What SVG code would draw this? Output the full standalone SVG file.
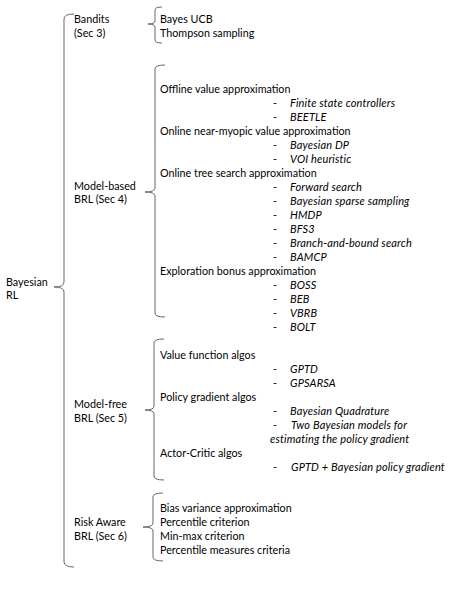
<svg xmlns="http://www.w3.org/2000/svg" width="450" height="600" viewBox="0 0 450 600">
<style>
text{font-family:Lato,"Liberation Sans",sans-serif;font-size:10.75px;fill:#000}
.i{font-style:italic;font-size:11px;letter-spacing:0.15px}
.br{fill:none;stroke:#666;stroke-width:1}
</style>
<rect width="450" height="600" fill="#fff"/>
<g id="connectors">
<path class="br" d="M74,14 Q64,14 64,19 L64,282 Q64,287 54,287 Q64,287 64,292 L64,562 Q64,567 74,567"/>
<path class="br" d="M162,7 Q155,7 155,10 L155,21 Q155,24 148,24 Q155,24 155,27 L155,40 Q155,43 162,43"/>
<path class="br" d="M165,65 Q155,65 155,69 L155,188 Q155,192 145,192 Q155,192 155,196 L155,313 Q155,317 165,317"/>
<path class="br" d="M164,339 Q154,339 154,343 L154,406 Q154,410 145,410 Q154,410 154,414 L154,476 Q154,480 164,480"/>
<path class="br" d="M163,493 Q153,493 153,497 L153,523 Q153,527 143,527 Q153,527 153,531 L153,557 Q153,561 163,561"/>
</g>
<g id="root"><text x="6" y="286">Bayesian</text><text x="6" y="299">RL</text></g>
<g id="bandits"><text x="74" y="23">Bandits</text><text x="74" y="37">(Sec 3)</text></g>
<g id="bandits-items"><text x="160" y="23">Bayes UCB</text><text x="160" y="37">Thompson sampling</text></g>
<g id="model-based"><text x="74" y="190">Model-based</text><text x="74" y="203">BRL (Sec 4)</text></g>
<g id="model-based-items">
<text x="160" y="93">Offline value approximation</text>
<text x="273" y="107">-</text><text class="i" x="290" y="107">Finite state controllers</text>
<text x="273" y="121">-</text><text class="i" x="290" y="121">BEETLE</text>
<text x="160" y="135">Online near-myopic value approximation</text>
<text x="273" y="149">-</text><text class="i" x="290" y="149">Bayesian DP</text>
<text x="273" y="163">-</text><text class="i" x="290" y="163">VOI heuristic</text>
<text x="160" y="177">Online tree search approximation</text>
<text x="273" y="191">-</text><text class="i" x="290" y="191">Forward search</text>
<text x="273" y="205">-</text><text class="i" x="290" y="205">Bayesian sparse sampling</text>
<text x="273" y="219">-</text><text class="i" x="290" y="219">HMDP</text>
<text x="273" y="233">-</text><text class="i" x="290" y="233">BFS3</text>
<text x="273" y="247">-</text><text class="i" x="290" y="247">Branch-and-bound search</text>
<text x="273" y="261">-</text><text class="i" x="290" y="261">BAMCP</text>
<text x="160" y="275">Exploration bonus approximation</text>
<text x="273" y="289">-</text><text class="i" x="290" y="289">BOSS</text>
<text x="273" y="303">-</text><text class="i" x="290" y="303">BEB</text>
<text x="273" y="317">-</text><text class="i" x="290" y="317">VBRB</text>
<text x="273" y="331">-</text><text class="i" x="290" y="331">BOLT</text>
</g>
<g id="model-free"><text x="74" y="408">Model-free</text><text x="74" y="422">BRL (Sec 5)</text></g>
<g id="model-free-items">
<text x="160" y="359">Value function algos</text>
<text x="273" y="373">-</text><text class="i" x="290" y="373">GPTD</text>
<text x="273" y="387">-</text><text class="i" x="290" y="387">GPSARSA</text>
<text x="160" y="401">Policy gradient algos</text>
<text x="273" y="415">-</text><text class="i" x="290" y="415">Bayesian Quadrature</text>
<text x="273" y="429">-</text><text class="i" x="291" y="429">Two Bayesian models for</text>
<text class="i" x="270" y="443">estimating the policy gradient</text>
<text x="160" y="457">Actor-Critic algos</text>
<text x="273" y="471">-</text><text class="i" x="291" y="471">GPTD + Bayesian policy gradient</text>
</g>
<g id="risk-aware"><text x="74" y="526">Risk Aware</text><text x="74" y="540">BRL (Sec 6)</text></g>
<g id="risk-aware-items">
<text x="160" y="512">Bias variance approximation</text>
<text x="160" y="526">Percentile criterion</text>
<text x="160" y="540">Min-max criterion</text>
<text x="160" y="554">Percentile measures criteria</text>
</g>
</svg>
